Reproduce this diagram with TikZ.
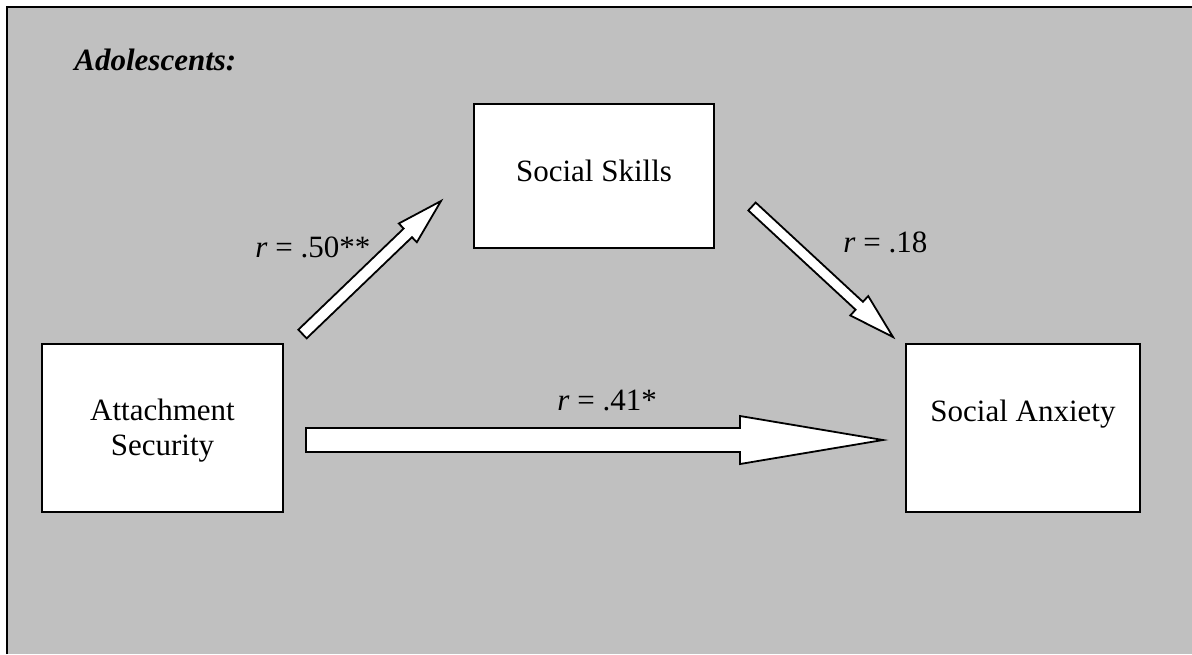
\documentclass[tikz,border=0pt]{standalone}
\usepackage{fontspec}
\setmainfont{Liberation Serif}
\usetikzlibrary{calc}

\definecolor{panelgray}{HTML}{C0C0C0}

% Hollow block arrow: tail, tip, shaft half-width, head half-width, head length
\newcommand\drawblockarrow[5]{%
  \coordinate (ba-b) at ($(#2)!#5!(#1)$);
  \draw[arrowbody] ($(#1)!#3!90:(#2)$) -- ($(ba-b)!#3!90:(#2)$)
    -- ($(ba-b)!#4!90:(#2)$) -- (#2) -- ($(ba-b)!#4!-90:(#2)$)
    -- ($(ba-b)!#3!-90:(#2)$) -- ($(#1)!#3!-90:(#2)$) -- cycle;}

\begin{document}
\begin{tikzpicture}[x=0.5pt,y=-0.5pt,
  every node/.style={font=\fontsize{15.5}{17.5}\selectfont},
  varbox/.style={draw=black,line width=1.2pt,fill=white,inner sep=0pt},
  arrowbody/.style={draw=black,line width=0.9pt,fill=white,line join=miter},
  corr/.style={anchor=base west,inner sep=0pt}]
  \useasboundingbox (0,0) rectangle (1192,654);
  % panel background with its left and top rule
  \fill[panelgray] (7,7) rectangle (1192,654);
  \draw[line width=1.1pt] (7,654) -- (7,7) -- (1192,7);

  \node[anchor=base west,inner sep=0pt,font=\fontsize{15.5}{17.5}\selectfont\bfseries\itshape]
    (title) at (74,70) {Adolescents:};

  % variables
  \node[varbox,minimum width=120.5pt,minimum height=84pt] (att) at (162.5,428) {};
  \node[align=center,inner sep=0pt] (attlbl) at (162.5,431) {Attachment\\Security};
  \node[varbox,minimum width=120pt,minimum height=72pt] (skills) at (594,176) {};
  \node[anchor=base,inner sep=0pt] (skillslbl) at (594,181) {Social Skills};
  \node[varbox,minimum width=117pt,minimum height=84pt] (anx) at (1023,428) {};
  \node[anchor=base,inner sep=0pt] (anxlbl) at (1023,421) {Social Anxiety};

  % arrow end points
  \coordinate (a1t) at (302.5,334);
  \coordinate (a1h) at (441,201);
  \coordinate (a2t) at (752,206.5);
  \coordinate (a2h) at (893,337);
  \coordinate (a3t) at (306,440);
  \coordinate (a3h) at (883,440);

  \drawblockarrow{a1t}{a1h}{3pt}{6.5pt}{23pt}
  \drawblockarrow{a2t}{a2h}{2.7pt}{6.6pt}{23pt}
  \drawblockarrow{a3t}{a3h}{6pt}{12pt}{71.5pt}

  % correlations
  \node[corr] (r1) at (255,257) {\textit{r} = .50**};
  \node[corr] (r2) at (843,252) {\textit{r} = .18};
  \node[corr] (r3) at (557,410) {\textit{r} = .41*};
\end{tikzpicture}
\end{document}
